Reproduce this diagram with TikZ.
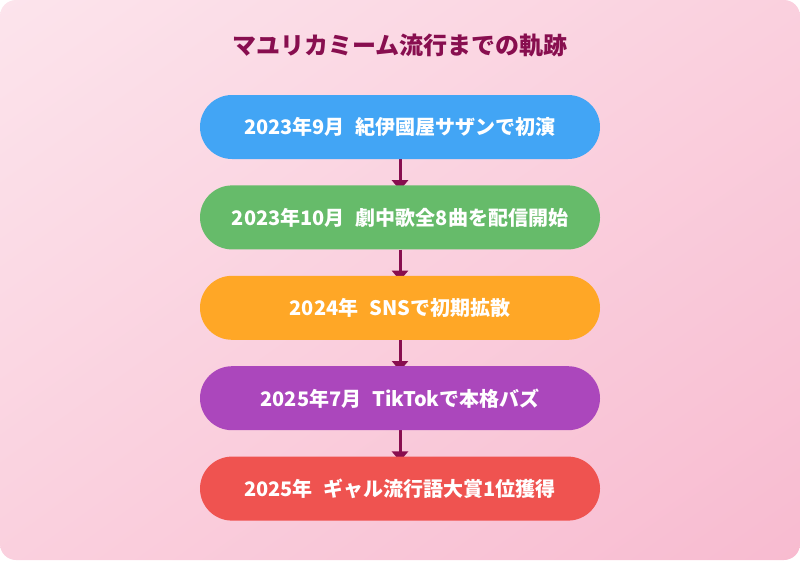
\documentclass[tikz,border=0pt]{standalone}
\usepackage{fontspec}
\setmainfont{Noto Sans CJK JP}
\usepackage{xcolor}
\usetikzlibrary{positioning,arrows.meta,shadings}

\definecolor{bgtop}{HTML}{FCE4EC}
\definecolor{bgbot}{HTML}{F8BBD0}
\definecolor{bgmid}{HTML}{FAD0DE}
\definecolor{titlecol}{HTML}{880E4F}
\definecolor{stepblue}{HTML}{42A5F5}
\definecolor{stepgreen}{HTML}{66BB6A}
\definecolor{steporange}{HTML}{FFA726}
\definecolor{steppurple}{HTML}{AB47BC}
\definecolor{stepred}{HTML}{EF5350}

\pgfdeclarelayer{bg}
\pgfdeclarelayer{link}
\pgfsetlayers{bg,link,main}

\newcommand{\gap}{\hspace{0.55em}}

\begin{document}
\begin{tikzpicture}[x=1pt,y=-1pt,
    pill/.style={rounded corners=32pt,minimum width=400pt,minimum height=64pt,
      inner sep=0pt,text=white,font=\bfseries\fontsize{20}{24}\selectfont},
    flow/.style={titlecol,line width=3pt,-{Triangle[width=16pt,length=10pt]},shorten >=-5pt},
    node distance=26pt]
		\useasboundingbox (0,0) rectangle (800,560);
		\begin{pgfonlayer}{bg}
		\shade[rounded corners=16pt,upper left=bgtop,upper right=bgmid,
		  lower left=bgmid,lower right=bgbot] (0,0) rectangle (800,560);
		\end{pgfonlayer}
		%
		\node[text=titlecol,font=\bfseries\fontsize{24}{28}\selectfont] (title) at (400,45) {マユリカミーム流行までの軌跡};
		\node[pill,fill=stepblue] (s1) at (400,127) {2023年9月\gap 紀伊國屋サザンで初演};
		\node[pill,fill=stepgreen,below=of s1] (s2) {2023年10月\gap 劇中歌全8曲を配信開始};
		\node[pill,fill=steporange,below=of s2] (s3) {2024年\gap SNSで初期拡散};
		\node[pill,fill=steppurple,below=of s3] (s4) {2025年7月\gap TikTokで本格バズ};
		\node[pill,fill=stepred,below=of s4] (s5) {2025年\gap ギャル流行語大賞1位獲得};
		%
		\begin{pgfonlayer}{link}
		\draw[flow] (s1) -- (s2);
		\draw[flow] (s2) -- (s3);
		\draw[flow] (s3) -- (s4);
		\draw[flow] (s4) -- (s5);
		\end{pgfonlayer}
\end{tikzpicture}
\end{document}
